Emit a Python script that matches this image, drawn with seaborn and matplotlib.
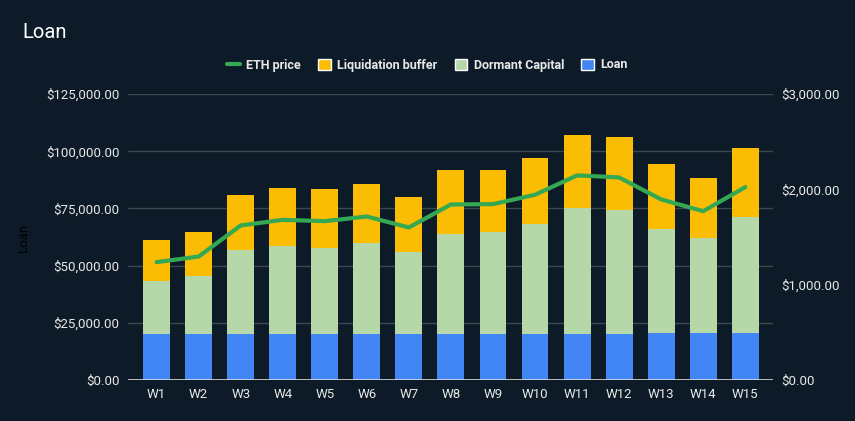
import matplotlib
matplotlib.use("Agg")
import matplotlib.pyplot as plt
import seaborn as sns
import numpy as np
import pandas as pd
from matplotlib.ticker import FuncFormatter
from matplotlib.patches import Patch
from matplotlib.lines import Line2D

weeks = [f"W{i}" for i in range(1, 16)]
loan = [20000, 20000, 20000, 20000, 20000, 20000, 20000, 20000, 20000, 20000, 20000, 20000, 20400, 20400, 20400]
dormant_top = [43200, 45400, 56700, 58500, 57900, 59700, 55900, 64000, 64600, 68100, 75100, 74200, 65900, 62000, 71200]
total_top = [61400, 64500, 80700, 83700, 83300, 85500, 79800, 91600, 92000, 96900, 106900, 106000, 94200, 88500, 101200]
dormant = [d - l for d, l in zip(dormant_top, loan)]
liquidation = [t - d for t, d in zip(total_top, dormant_top)]
eth_price = [1236, 1295, 1621, 1680, 1666, 1715, 1600, 1841, 1845, 1943, 2146, 2125, 1894, 1771, 2023]

BG = "#0c1b27"
C_LOAN = "#4285f4"
C_DORM = "#b6d7a8"
C_LIQ = "#fbbc04"
C_ETH = "#34a853"
TXT = "#e8e8e8"
GRID = "#3b4852"

sns.set_theme(style="dark")
plt.rcParams['font.family'] = ['Roboto', 'DejaVu Sans']

df = pd.DataFrame({"week": weeks, "loan": loan, "dormant": dormant,
                   "liquidation": liquidation, "eth": eth_price})
df["s2"] = df["loan"] + df["dormant"]
df["s3"] = df["s2"] + df["liquidation"]

fig = plt.figure(figsize=(8.55, 4.21), dpi=100, facecolor=BG)
ax = fig.add_axes([128/855, 1-380/421, (773-128)/855, (380-94)/421])
ax.set_facecolor(BG)

w = 0.64
kw = dict(width=w, saturation=1, ax=ax, edgecolor="none", linewidth=0)
sns.barplot(data=df, x="week", y="s3", color=C_LIQ, zorder=2, **kw)
sns.barplot(data=df, x="week", y="s2", color=C_DORM, zorder=3, **kw)
sns.barplot(data=df, x="week", y="loan", color=C_LOAN, zorder=4, **kw)

ax.set_ylim(0, 125000)
ax.set_yticks(np.arange(0, 125001, 25000))
ax.yaxis.set_major_formatter(FuncFormatter(lambda v, p: f"${v:,.2f}"))
ax.set_xlim(-0.68, 14.66)
ax.grid(axis="y", color=GRID, linewidth=1, zorder=0)
ax.grid(axis="x", visible=False)
for s in ax.spines.values():
    s.set_visible(False)
ax.axhline(0, color="#d9d9d9", linewidth=1.2, zorder=5)
ax.tick_params(axis="both", colors=TXT, labelsize=9.5, length=0, pad=6)
ax.set_xlabel("")
ax.set_ylabel("Loan", color="#000000", fontsize=9.5)
ax.yaxis.set_label_coords(-(128-30)/645, 0.5)

ax2 = ax.twinx()
sns.lineplot(x=np.arange(15), y=df["eth"].values, color=C_ETH, linewidth=3, ax=ax2, zorder=6)
ax2.set_ylim(0, 3000)
ax2.set_yticks(np.arange(0, 3001, 1000))
ax2.yaxis.set_major_formatter(FuncFormatter(lambda v, p: f"${v:,.2f}"))
ax2.tick_params(axis="y", colors=TXT, labelsize=9.5, length=0, pad=6)
ax2.grid(False)
for s in ax2.spines.values():
    s.set_visible(False)
ax2.set_xlim(-0.68, 14.66)

fig.text(22/855, 1-33/421, "Loan", color="#ffffff", fontsize=14.5, va="center", ha="left")

handles = [Line2D([0], [0], color=C_ETH, lw=3),
           Patch(facecolor=C_LIQ), Patch(facecolor=C_DORM), Patch(facecolor=C_LOAN)]
labels = ["ETH price", "Liquidation buffer", "Dormant Capital", "Loan"]
fig.legend(handles, labels, loc="center", bbox_to_anchor=(0.5, 1-65/421), ncol=4,
           frameon=False, labelcolor=TXT, handlelength=1.0, handleheight=1.0,
           handletextpad=0.5, columnspacing=1.4, prop={"weight": "bold", "size": 9})

fig.savefig("out.png", dpi=100, facecolor=BG)
